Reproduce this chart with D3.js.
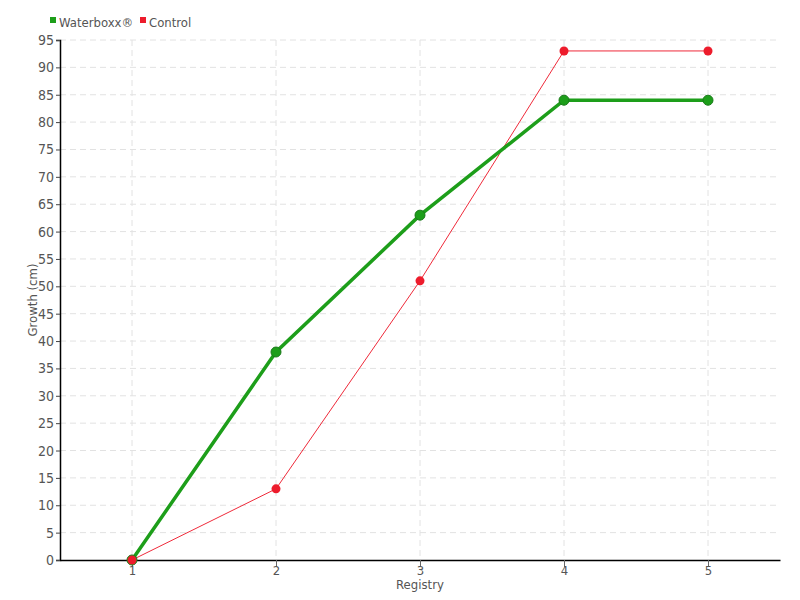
<!DOCTYPE html>
<html>
<head>
<meta charset="utf-8">
<script src="https://cdn.jsdelivr.net/npm/d3@7"></script>
<style>
body { margin: 0; background: #fff; }
text { font-family: "DejaVu Sans Condensed", "DejaVu Sans", sans-serif; fill: #555; }
</style>
</head>
<body>
<div id="chart"></div>
<script>
// data
var registry = [1, 2, 3, 4, 5];
var waterboxx = [0, 38, 63, 84, 84];
var control = [0, 13, 51, 93, 93];
var yTicks = d3.range(0, 96, 5);

var width = 800, height = 600;
var m = {top: 40, right: 20, bottom: 40, left: 60};

var svg = d3.select("#chart").append("svg")
	.attr("width", width)
	.attr("height", height);

var x = d3.scaleLinear().domain([0.5, 5.5]).range([m.left, width - m.right]);
var y = d3.scaleLinear().domain([0, 95]).range([height - m.bottom, m.top]);

// grid
var grid = svg.append("g").attr("class", "grid");
grid.selectAll("line.h")
	.data(yTicks.slice(1))
	.enter().append("line")
	.attr("x1", m.left).attr("x2", width - m.right)
	.attr("y1", function(d) { return y(d); })
	.attr("y2", function(d) { return y(d); })
	.attr("stroke", "#e2e2e2")
	.attr("stroke-dasharray", "6,4");
grid.selectAll("line.v")
	.data(registry)
	.enter().append("line")
	.attr("y1", m.top).attr("y2", height - m.bottom)
	.attr("x1", function(d) { return x(d); })
	.attr("x2", function(d) { return x(d); })
	.attr("stroke", "#e2e2e2")
	.attr("stroke-dasharray", "6,4");

// axes
var yAxis = svg.append("g")
	.attr("transform", "translate(" + m.left + ",0)")
	.call(d3.axisLeft(y).tickValues(yTicks).tickSize(4).tickPadding(2));
yAxis.select(".domain").attr("stroke", "#000").attr("stroke-width", 1.5);
yAxis.selectAll(".tick line").attr("stroke", "#444");
yAxis.selectAll("text").style("font-size", "14px").attr("fill", "#555");

var xAxis = svg.append("g")
	.attr("transform", "translate(0," + (height - m.bottom) + ")")
	.call(d3.axisBottom(x).tickValues(registry).tickFormat(d3.format("d")).tickSize(7).tickPadding(-1).tickSizeOuter(0));
xAxis.select(".domain").attr("stroke", "#000").attr("stroke-width", 1.5);
xAxis.selectAll(".tick line").attr("stroke", "#666");
xAxis.selectAll("text").style("font-size", "13px").attr("fill", "#555");

svg.append("text")
	.attr("x", (m.left + width - m.right) / 2)
	.attr("y", 589)
	.attr("text-anchor", "middle")
	.style("font-size", "13px")
	.text("Registry");

svg.append("text")
	.attr("transform", "translate(37," + ((m.top + height - m.bottom) / 2) + ") rotate(-90)")
	.attr("text-anchor", "middle")
	.style("font-size", "13px")
	.text("Growth (cm)");

var line = d3.line()
	.x(function(d, i) { return x(registry[i]); })
	.y(function(d) { return y(d); });

// control series
svg.append("path")
	.datum(control)
	.attr("fill", "none")
	.attr("stroke", "#ef2a3a")
	.attr("stroke-width", 1)
	.attr("d", line);

// waterboxx series
svg.append("path")
	.datum(waterboxx)
	.attr("fill", "none")
	.attr("stroke", "#1d9e1a")
	.attr("stroke-width", 3.5)
	.attr("d", line);

svg.selectAll("circle.wb")
	.data(waterboxx)
	.enter().append("circle")
	.attr("cx", function(d, i) { return x(registry[i]); })
	.attr("cy", function(d) { return y(d); })
	.attr("r", 5)
	.attr("fill", "#1d9e1a")
	.attr("stroke", "#1a7a1a")
	.attr("stroke-width", 1);

svg.selectAll("circle.ct")
	.data(control)
	.enter().append("circle")
	.attr("cx", function(d, i) { return x(registry[i]); })
	.attr("cy", function(d) { return y(d); })
	.attr("r", 4.5)
	.attr("fill", "#ed1c2c");

// legend
var legend = [
	{name: "Waterboxx\u00ae", color: "#1d9e1a", x: 50},
	{name: "Control", color: "#ed1c2c", x: 140}
];
var lg = svg.selectAll("g.legend")
	.data(legend)
	.enter().append("g")
	.attr("transform", function(d) { return "translate(" + d.x + ",22)"; });
lg.append("rect")
	.attr("x", 0).attr("y", -5)
	.attr("width", 6).attr("height", 6)
	.attr("fill", function(d) { return d.color; });
lg.append("text")
	.attr("x", 9).attr("y", 5)
	.style("font-size", "13px")
	.text(function(d) { return d.name; });
</script>
</body>
</html>
